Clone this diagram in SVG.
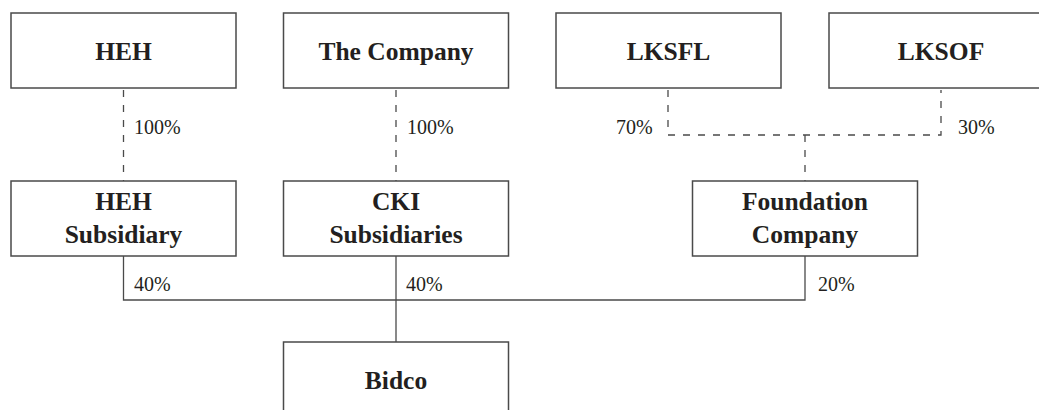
<svg xmlns="http://www.w3.org/2000/svg" width="1039" height="410" viewBox="0 0 1039 410">
<style>
.box{fill:#fff;stroke:#4a4a4a;stroke-width:1.5}
.lbl{font-family:"Liberation Serif","Times New Roman",serif;font-weight:bold;font-size:25.5px;fill:#231f20;text-anchor:middle}
.pct{font-family:"Liberation Serif","Times New Roman",serif;font-size:20px;fill:#231f20}
.dash{fill:none;stroke:#4a4a4a;stroke-width:1.3;stroke-dasharray:7 8}
.solid{fill:none;stroke:#4a4a4a;stroke-width:1.3}
</style>
<rect width="1039" height="410" fill="#fff"/>
<g id="connectors">
<line class="dash" x1="123.5" y1="90" x2="123.5" y2="181"/>
<line class="dash" x1="396" y1="90" x2="396" y2="181"/>
<path class="dash" d="M668,90 V135 H941 V90"/>
<line class="dash" x1="805" y1="135" x2="805" y2="181"/>
<path class="solid" d="M123.5,256 V300 H805 V256"/>
<line class="solid" x1="396" y1="256" x2="396" y2="342"/>
<text class="pct" x="134" y="134">100%</text>
<text class="pct" x="407" y="134">100%</text>
<text class="pct" x="616" y="134">70%</text>
<text class="pct" x="958" y="134">30%</text>
<text class="pct" x="134" y="291">40%</text>
<text class="pct" x="406" y="291">40%</text>
<text class="pct" x="818" y="291">20%</text>
</g>
<g id="heh"><rect class="box" x="11" y="13" width="225" height="75"/><text class="lbl" x="123.5" y="60">HEH</text></g>
<g id="company"><rect class="box" x="283.5" y="13" width="225" height="75"/><text class="lbl" x="396" y="60">The Company</text></g>
<g id="lksfl"><rect class="box" x="556" y="13" width="225" height="75"/><text class="lbl" x="668.5" y="60">LKSFL</text></g>
<g id="lksof"><rect class="box" x="829" y="13" width="225" height="75"/><text class="lbl" x="941" y="60">LKSOF</text></g>
<g id="heh-sub"><rect class="box" x="11" y="181" width="225" height="75"/><text class="lbl" x="123.5" y="210">HEH</text><text class="lbl" x="123.5" y="243">Subsidiary</text></g>
<g id="cki-sub"><rect class="box" x="283.5" y="181" width="225" height="75"/><text class="lbl" x="396" y="210">CKI</text><text class="lbl" x="396" y="243">Subsidiaries</text></g>
<g id="foundation"><rect class="box" x="692.5" y="181" width="225" height="75"/><text class="lbl" x="805" y="210">Foundation</text><text class="lbl" x="805" y="243">Company</text></g>
<g id="bidco"><rect class="box" x="283.5" y="342" width="225" height="75"/><text class="lbl" x="396" y="389">Bidco</text></g>
</svg>
